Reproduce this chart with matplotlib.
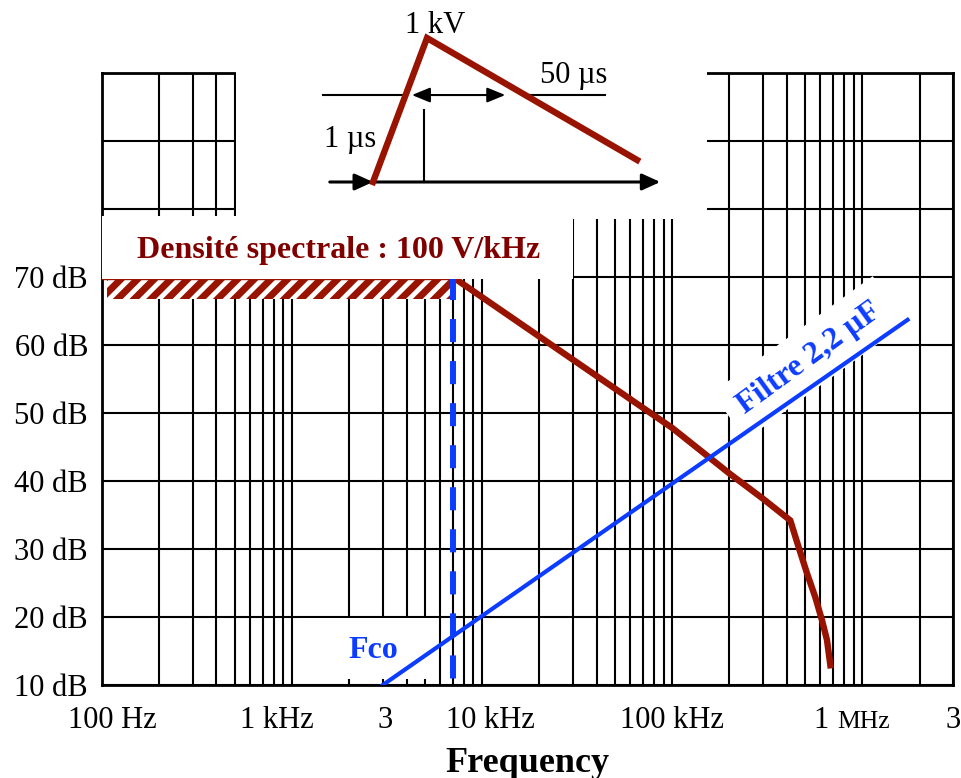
import numpy as np
import matplotlib
matplotlib.use('Agg')
import matplotlib.pyplot as plt
from matplotlib.patches import Rectangle
from matplotlib.ticker import LogLocator, NullFormatter

# spectral density of the 1 kV 1/50 us surge, in dB
surge_freq = [100, 7.0e3, 100e3, 200e3, 300e3, 418e3, 462e3, 512e3, 566e3, 614e3, 652e3, 679e3]
surge_db = [70, 70, 47.8, 41.1, 37.4, 34.2, 30.3, 26.4, 22.9, 19.5, 16.6, 12.9]

# hatched plateau under the 100 V/kHz level
plateau_freq = [106, 7.0e3]
plateau_low = 66.7
plateau_high = 70

# 2.2 uF filter attenuation
filter_freq = [3e3, 1.73e6]
filter_db = [10, 63.7]

# cut-off frequency marker
fco = 7.0e3
fco_db = [70, 10.1]

y_ticks = [10, 20, 30, 40, 50, 60, 70, 80, 90, 100]
y_labels = ['10 dB', '20 dB', '30 dB', '40 dB', '50 dB', '60 dB', '70 dB', '', '', '']
x_ticks = [100, 1e3, 3e3, 10e3, 100e3, 1e6, 3e6]
x_labels = ['100 Hz', '1 kHz', '3', '10 kHz', '100 kHz', '1', '3']
x_shift = [10, -15, 2, 8, 0, -41, 0]   # label offsets in px, as in the original

# surge pulse sketch (arbitrary units: rise time = 1, peak = 1)
pulse_x = [0, 1, 4.89]
pulse_y = [0, 1, 0.153]
half_level = 0.604

RED = '#981400'
DARKRED = '#800000'
BLUE = '#0c3cff'

plt.rcParams['font.family'] = ['Liberation Serif', 'DejaVu Serif']
plt.rcParams['hatch.linewidth'] = 5

fig = plt.figure(figsize=(9.61, 7.78), dpi=100)
ax = fig.add_axes([102/961, 1 - 685/778, 851/961, 612/778])

ax.set_xscale('log')
ax.set_xlim(100, 3e6)
ax.set_ylim(10, 100)
ax.xaxis.set_major_locator(LogLocator(base=10))
ax.xaxis.set_minor_locator(LogLocator(base=10, subs=range(2, 10)))
ax.xaxis.set_major_formatter(NullFormatter())
ax.xaxis.set_minor_formatter(NullFormatter())
ax.set_yticks(y_ticks, labels=y_labels)
ax.tick_params(which='both', length=0)
ax.tick_params(axis='y', labelsize=22, pad=10)
ax.grid(which='both', axis='x', color='k', lw=1.5)
ax.grid(which='major', axis='y', color='k', lw=1.5)
ax.set_axisbelow(True)
for s in ax.spines.values():
    s.set_linewidth(2)
    s.set_zorder(0.9)

# x labels, placed by hand under the axis
for f, lab, dx in zip(x_ticks, x_labels, x_shift):
    ax.annotate(lab, xy=(f, 0), xycoords=('data', 'axes fraction'),
                xytext=(dx * 0.72, -31), textcoords='offset points',
                ha='center', va='baseline', fontsize=22)
ax.annotate('MHz', xy=(1e6, 0), xycoords=('data', 'axes fraction'),
            xytext=(-25 * 0.72, -31), textcoords='offset points',
            ha='left', va='baseline', fontsize=18.5)
ax.set_xlabel('Frequency', fontsize=26, fontweight='bold')
ax.xaxis.set_label_coords(0.5, -0.101)

# hatched plateau and surge density
ax.fill_between(plateau_freq, plateau_low, plateau_high, facecolor='white',
                edgecolor=RED, hatch='//', linewidth=0, zorder=2)
ax.plot(surge_freq, surge_db, color=RED, lw=4.6, zorder=3, solid_joinstyle='miter')

# filter line and cut-off frequency
ax.plot(filter_freq, filter_db, color=BLUE, lw=3, zorder=3)
ax.plot([fco, fco], fco_db, color=BLUE, lw=4.3, dashes=(3.86, 3.18),
        dash_capstyle='butt', zorder=3)

# white masks behind the labels
ax.add_patch(Rectangle((100, 69.7), 30e3 - 100, 9.3, facecolor='white',
                       edgecolor='none', zorder=4))
ax.text(1.75e3, 73.9, 'Densité spectrale : 100 V/kHz', color=DARKRED,
        fontsize=23, fontweight='bold', ha='center', va='center', zorder=5)

ax.add_patch(Rectangle((1.1e3, 10.9), 5.8e3 - 1.1e3, 8.9, facecolor='white',
                       edgecolor='none', zorder=2.5))
ax.text(2.67e3, 15.1, 'Fco', color=BLUE, fontsize=23, fontweight='bold',
        ha='center', va='center', zorder=2.6)

ax.text(526e3, 58.1, 'Filtre 2,2 µF', color=BLUE, fontsize=23, fontweight='bold',
        rotation=36, rotation_mode='anchor', ha='center', va='center', zorder=2.6,
        bbox=dict(boxstyle='square,pad=0.45', facecolor='white', edgecolor='none'))

# surge pulse sketch on a white inset
ins = fig.add_axes([236/961, 1 - 219/778, 471/961, 219/778])
ins.set_xlim(-2.537, 6.185)
ins.set_ylim(-0.257, 1.264)
ins.set_facecolor('white')
ins.set_xticks([])
ins.set_yticks([])
for s in ins.spines.values():
    s.set_visible(False)

ins.plot([-0.926, 0.55], [half_level, half_level], color='k', lw=1.5)
ins.plot([2.87, 4.3], [half_level, half_level], color='k', lw=1.5)
ins.plot([0.944, 0.944], [0, 0.5], color='k', lw=1.5)
ins.plot(pulse_x, pulse_y, color=RED, lw=4.6, zorder=4, solid_joinstyle='miter')

arrow = dict(arrowstyle='-|>,head_length=1.1,head_width=0.5', lw=2.2, color='k',
             mutation_scale=10, shrinkA=0, shrinkB=0)
ins.annotate('', xy=(5.32, 0), xytext=(0, 0), arrowprops=arrow)
ins.annotate('', xy=(0, 0), xytext=(-0.8, 0), arrowprops=arrow)
ins.annotate('', xy=(2.45, half_level), xytext=(0.72, half_level),
             arrowprops=dict(arrowstyle='<|-|>,head_length=1.1,head_width=0.45',
                             lw=1.5, color='k', mutation_scale=10,
                             shrinkA=0, shrinkB=0))

ins.text(1.157, 1.035, '1 kV', fontsize=22, ha='center', va='baseline')
ins.text(3.72, 0.687, '50 µs', fontsize=22, ha='center', va='baseline')
ins.text(-0.426, 0.243, '1 µs', fontsize=22, ha='center', va='baseline')

fig.savefig('out.png', dpi=100)
